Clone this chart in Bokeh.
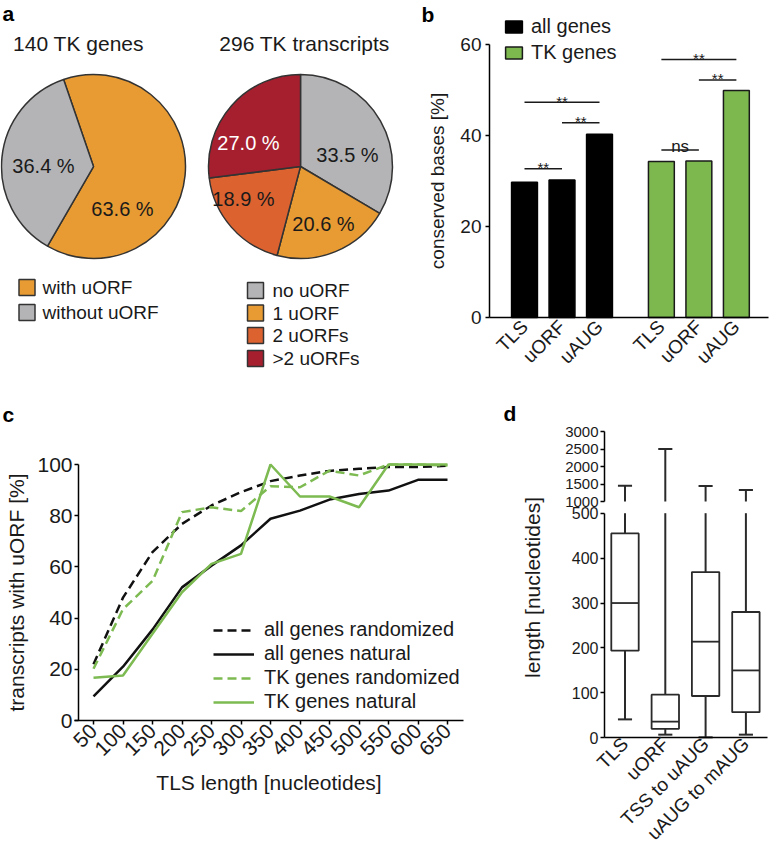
import numpy as np
from bokeh.plotting import figure
from bokeh.models import (Range1d, ColumnDataSource, Label, Legend, LegendItem,
                          LinearAxis, FixedTicker)
from bokeh.layouts import row, column
from bokeh.embed import file_html
from bokeh.resources import INLINE
from bokeh.core.properties import value

FONT = "Liberation Sans"
TXT = "#1a1a1a"

# ---------------------------------------------------------------- data
# panel a
genes_title = "140 TK genes"
genes_labels = ["with uORF", "without uORF"]
genes_pct = [63.6, 36.4]
tx_title = "296 TK transcripts"
tx_labels = ["no uORF", "1 uORF", "2 uORFs", ">2 uORFs"]
tx_pct = [33.5, 20.6, 18.9, 27.0]

# panel b
b_categories = ["TLS", "uORF", "uAUG"]
b_series = ["all genes", "TK genes"]
b_all_genes = [29.7, 30.2, 40.3]
b_tk_genes = [34.3, 34.4, 49.9]
b_sig_left = [0, 1, 0, 3, 4, 3]
b_sig_right = [2, 2, 1, 5, 5, 4]
b_sig_y = [47.3, 42.8, 32.7, 56.7, 52.2, 36.8]
b_sig_text = ["**", "**", "**", "**", "**", "ns"]
b_yticks = [0, 20, 40, 60]

# panel c
c_tls_length = [50, 100, 150, 200, 250, 300, 350, 400, 450, 500, 550, 600, 650]
c_all_random = [22.0, 48.0, 65.8, 76.8, 84.0, 89.2, 93.5, 95.7, 97.5, 98.3, 99.0, 99.0, 99.5]
c_all_natural = [9.4, 21.0, 35.5, 52.0, 60.5, 68.4, 78.8, 82.0, 86.3, 88.5, 89.8, 94.0, 94.0]
c_tk_random = [20.2, 43.5, 54.5, 81.4, 83.3, 81.8, 91.5, 91.1, 97.6, 95.7, 100.0, 100.0, 99.6]
c_tk_natural = [16.7, 17.6, 33.9, 50.1, 61.2, 65.1, 100.0, 87.5, 87.5, 83.3, 100.0, 100.0, 100.0]
c_series = ["all genes randomized", "all genes natural", "TK genes randomized", "TK genes natural"]
c_yticks = [0, 20, 40, 60, 80, 100]

# panel d
d_categories = ["TLS", "uORF", "TSS to uAUG", "uAUG to mAUG"]
d_low = [41, 7, 1, 7]
d_q1 = [194, 20, 93, 57]
d_median = [300, 36, 214, 150]
d_q3 = [455, 96, 369, 280]
d_high = [1450, 2500, 1440, 1330]
d_lower_ticks = [0, 100, 200, 300, 400, 500]
d_upper_ticks = [1000, 1500, 2000, 2500, 3000]

# ---------------------------------------------------------------- colours
C_ORANGE = "#E89B33"
C_GREY = "#B4B4B6"
C_DORANGE = "#DC6230"
C_RED = "#A51F2F"
C_GREEN = "#7CB84E"
C_LGREEN = "#7DBB52"
C_EDGE = "#333333"


# ---------------------------------------------------------------- geometry helpers
def lin(v0, p0, v1, p1):
    """value at page pixel p, from two anchors (value, page pixel)."""
    return lambda p: v0 + (p - p0) * (v1 - v0) / (p1 - p0)


def full_fig(w, h, xr, yr):
    p = figure(width=w, height=h, x_range=Range1d(*xr), y_range=Range1d(*yr),
               x_axis_location=None, y_axis_location=None,
               output_backend="svg", toolbar_location=None, min_border=0)
    p.outline_line_color = None
    p.background_fill_color = "white"
    p.border_fill_color = "white"
    p.xgrid.visible = False
    p.ygrid.visible = False
    return p


def style_axis(ax, tick_size, label_size):
    ax.axis_line_color = "black"
    ax.axis_line_width = 1.5
    ax.major_tick_line_color = "black"
    ax.major_tick_line_width = 1.5
    ax.minor_tick_line_color = None
    ax.major_tick_in = 0
    ax.major_label_text_font = FONT
    ax.major_label_text_font_size = tick_size
    ax.major_label_text_color = TXT
    ax.axis_label_text_font = FONT
    ax.axis_label_text_font_size = label_size
    ax.axis_label_text_font_style = "normal"
    ax.axis_label_text_color = TXT


def panel_letter(p, x, y, letter):
    p.add_layout(Label(x=x, y=y, text=letter, text_font=FONT, text_font_size="21px",
                       text_font_style="bold", text_color="black",
                       text_baseline="top", text_align="left"))


# ================================================================ panel a
AL, AT, AW, AH = 0, 0, 400, 400
pa = full_fig(AW, AH, (0, AW), (0, AH))


def ax_(xr):
    return xr - AL


def ay_(yr):
    return AH - (yr - AT)


panel_letter(pa, ax_(2), ay_(1), "a")

R_PIE = 92
g_frac = np.array(genes_pct) / 100.0
g_start = np.radians(240) + 2 * np.pi * np.concatenate([[0], np.cumsum(g_frac)[:-1]])
g_end = g_start + 2 * np.pi * g_frac
src_g = ColumnDataSource(dict(start=g_start, end=g_end, color=[C_ORANGE, C_GREY],
                              label=genes_labels))
pa.wedge(x=ax_(93), y=ay_(166), radius=R_PIE, radius_units="screen",
         start_angle="start", end_angle="end", fill_color="color",
         line_color=C_EDGE, line_width=1.5, source=src_g)

t_frac = np.array(tx_pct) / 100.0
t_cum = np.cumsum(t_frac)
t_end = np.radians(90) - 2 * np.pi * np.concatenate([[0], t_cum[:-1]])
t_start = np.radians(90) - 2 * np.pi * t_cum
src_t = ColumnDataSource(dict(start=t_start, end=t_end,
                              color=[C_GREY, C_ORANGE, C_DORANGE, C_RED], label=tx_labels))
pa.wedge(x=ax_(300), y=ay_(166), radius=R_PIE, radius_units="screen",
         start_angle="start", end_angle="end", fill_color="color",
         line_color=C_EDGE, line_width=1.5, source=src_t)

pa.text(x=[ax_(78), ax_(304)], y=[ay_(43), ay_(43)], text=[genes_title, tx_title],
        text_font=value(FONT), text_font_size="21px", text_color=TXT,
        text_align="center", text_baseline="middle")

g_lab_pos = [(122, 208), (43, 165)]
t_lab_pos = [(347, 154), (323, 223), (243, 198), (248, 142)]
pa.text(x=[ax_(p[0]) for p in g_lab_pos], y=[ay_(p[1]) for p in g_lab_pos],
        text=[f"{v:.1f} %" for v in genes_pct], text_font=value(FONT),
        text_font_size="20px", text_color=TXT, text_align="center", text_baseline="middle")
pa.text(x=[ax_(p[0]) for p in t_lab_pos], y=[ay_(p[1]) for p in t_lab_pos],
        text=[f"{v:.1f} %" for v in tx_pct], text_font=value(FONT),
        text_font_size="20px", text_color=[TXT, TXT, TXT, "white"],
        text_align="center", text_baseline="middle")

g_leg_rows = [287, 312]
t_leg_rows = [290, 312.5, 335, 358]
pa.scatter(x=[ax_(26.5)] * 2, y=[ay_(r) for r in g_leg_rows], marker="square", size=16,
           fill_color=[C_ORANGE, C_GREY], line_color=C_EDGE, line_width=1.5)
pa.text(x=[ax_(42)] * 2, y=[ay_(r) for r in g_leg_rows], text=genes_labels,
        text_font=value(FONT), text_font_size="19px", text_color=TXT,
        text_align="left", text_baseline="middle")
pa.scatter(x=[ax_(255)] * 4, y=[ay_(r) for r in t_leg_rows], marker="square", size=16,
           fill_color=[C_GREY, C_ORANGE, C_DORANGE, C_RED], line_color=C_EDGE, line_width=1.5)
pa.text(x=[ax_(272)] * 4, y=[ay_(r) for r in t_leg_rows], text=tx_labels,
        text_font=value(FONT), text_font_size="19px", text_color=TXT,
        text_align="left", text_baseline="middle")

# ================================================================ panel b
BL, BT, BW, BH = 400, 0, 369, 400
b_pos = [0, 1, 2, 3.65, 4.65, 5.65]
bx = lin(0, 524, 1, 561.5)
by = lin(0, 317, 60, 44)
pb = full_fig(BW, BH, (bx(BL), bx(BL + BW)), (by(BT + BH), by(BT)))

r_all = pb.vbar(x=b_pos[:3], top=b_all_genes, width=0.69, fill_color="black",
                line_color="black", line_width=1.5)
r_tk = pb.vbar(x=b_pos[3:], top=b_tk_genes, width=0.69, fill_color=C_GREEN,
               line_color="#1a1a1a", line_width=1.5)

sig_x0 = [b_pos[i] for i in b_sig_left]
sig_x1 = [b_pos[i] for i in b_sig_right]
pb.segment(x0=sig_x0, x1=sig_x1, y0=b_sig_y, y1=b_sig_y, line_color="#1a1a1a", line_width=1.5)
pb.text(x=[(a + b) / 2 for a, b in zip(sig_x0, sig_x1)], y=b_sig_y, text=b_sig_text,
        text_font=value(FONT), text_font_size=["15px"] * 5 + ["17px"], text_color=TXT,
        text_align="center", text_baseline="alphabetic", y_offset=[-1] * 5 + [-4])

b_axis_x = bx(489)
yax_b = LinearAxis(fixed_location=b_axis_x, ticker=FixedTicker(ticks=b_yticks),
                   bounds=(0, 60), axis_label="conserved bases [%]")
style_axis(yax_b, "19px", "19px")
yax_b.major_tick_out = 4
yax_b.major_label_standoff = 4
yax_b.axis_label_standoff = 9
pb.add_layout(yax_b, "left")
xax_b = LinearAxis(fixed_location=0, ticker=FixedTicker(ticks=b_pos),
                   bounds=(b_axis_x, bx(768)),
                   major_label_overrides={p_: c for p_, c in zip(b_pos, b_categories * 2)})
style_axis(xax_b, "19px", "19px")
xax_b.major_tick_out = 0
xax_b.major_label_standoff = 6
xax_b.major_label_orientation = np.pi / 4
pb.add_layout(xax_b, "below")

leg_b = Legend(items=[LegendItem(label=b_series[0], renderers=[r_all]),
                      LegendItem(label=b_series[1], renderers=[r_tk])],
               location=(503 - BL, (BT + BH) - (28 - 11.2 + 47.6)),
               glyph_width=21, glyph_height=15, label_height=22, spacing=3,
               padding=0, margin=0, label_standoff=7,
               label_text_font=FONT, label_text_font_size="20px", label_text_color=TXT,
               border_line_color=None, background_fill_alpha=0)
pb.add_layout(leg_b)
panel_letter(pb, bx(421), by(2), "b")

# ================================================================ panel c
CL, CT, CW, CH = 0, 400, 500, 455
cx = lin(50, 93, 650, 447)
cy = lin(0, 720, 100, 464)
pc = full_fig(CW, CH, (cx(CL), cx(CL + CW)), (cy(CT + CH), cy(CT)))

l1 = pc.line(c_tls_length, c_all_random, line_color="#111111", line_width=2.5, line_dash="9 5")
l2 = pc.line(c_tls_length, c_all_natural, line_color="#111111", line_width=2.5)
l3 = pc.line(c_tls_length, c_tk_random, line_color=C_LGREEN, line_width=2.5, line_dash="9 5")
l4 = pc.line(c_tls_length, c_tk_natural, line_color=C_LGREEN, line_width=2.5)

c_axis_x = cx(78)
yax_c = LinearAxis(fixed_location=c_axis_x, ticker=FixedTicker(ticks=c_yticks),
                   bounds=(0, 100), axis_label="transcripts with uORF [%]")
style_axis(yax_c, "21px", "21px")
yax_c.major_tick_out = 4
yax_c.major_label_standoff = 2
yax_c.axis_label_standoff = 6
pc.add_layout(yax_c, "left")
xax_c = LinearAxis(fixed_location=0, ticker=FixedTicker(ticks=c_tls_length),
                   bounds=(cx(74), cx(463)), axis_label="TLS length [nucleotides]")
style_axis(xax_c, "21px", "21px")
xax_c.major_tick_out = 4
xax_c.major_label_standoff = 3
xax_c.major_label_orientation = np.pi / 4
xax_c.axis_label_standoff = 6
pc.add_layout(xax_c, "below")

leg_c = Legend(items=[LegendItem(label=s, renderers=[r]) for s, r in zip(c_series, [l1, l2, l3, l4])],
               location=(213 - CL, (CT + CH) - (632 - 11.2 + 92.2)),
               glyph_width=41, glyph_height=20, label_height=22, spacing=1,
               padding=0, margin=0, label_standoff=10,
               label_text_font=FONT, label_text_font_size="20px", label_text_color=TXT,
               border_line_color=None, background_fill_alpha=0)
pc.add_layout(leg_c)
panel_letter(pc, cx(2), cy(402), "c")

# ================================================================ panel d
DL, DT, DW, DH = 500, 400, 269, 455
BREAK_LOW, BREAK_HIGH = 500, 1000
dx = lin(0, 624.5, 1, 664.8)
dy = lin(0, 737.3, 500, 512.7)
dy_up = lin(1000, 501, 3000, 431)
pdd = full_fig(DW, DH, (dx(DL), dx(DL + DW)), (dy(DT + DH), dy(DT)))
pdd.extra_y_ranges = {"upper": Range1d(dy_up(DT + DH), dy_up(DT))}

d_pos = [0, 1, 2, 3]
BOXC = "#2a2a2a"
box_w, cap_w = 0.68, 0.35
pdd.segment(x0=d_pos, x1=d_pos, y0=d_q3, y1=np.minimum(d_high, BREAK_LOW),
            line_color=BOXC, line_width=2)
pdd.segment(x0=d_pos, x1=d_pos, y0=d_low, y1=d_q1, line_color=BOXC, line_width=2)
pdd.segment(x0=[x - cap_w / 2 for x in d_pos], x1=[x + cap_w / 2 for x in d_pos],
            y0=d_low, y1=d_low, line_color=BOXC, line_width=2)
pdd.segment(x0=d_pos, x1=d_pos, y0=[BREAK_HIGH] * 4, y1=d_high, line_color=BOXC,
            line_width=2, y_range_name="upper")
pdd.segment(x0=[x - cap_w / 2 for x in d_pos], x1=[x + cap_w / 2 for x in d_pos],
            y0=d_high, y1=d_high, line_color=BOXC, line_width=2, y_range_name="upper")
pdd.vbar(x=d_pos, bottom=d_q1, top=d_q3, width=box_w, fill_color="white",
         line_color=BOXC, line_width=1.8)
pdd.segment(x0=[x - box_w / 2 for x in d_pos], x1=[x + box_w / 2 for x in d_pos],
            y0=d_median, y1=d_median, line_color=BOXC, line_width=1.8)

d_axis_x = dx(604)
yax_d = LinearAxis(fixed_location=d_axis_x, ticker=FixedTicker(ticks=d_lower_ticks),
                   bounds=(0, BREAK_LOW))
style_axis(yax_d, "16px", "16px")
yax_d.major_tick_out = 4
yax_d.major_label_standoff = 2
pdd.add_layout(yax_d, "left")
yax_d_up = LinearAxis(y_range_name="upper", fixed_location=d_axis_x,
                      ticker=FixedTicker(ticks=d_upper_ticks), bounds=(BREAK_HIGH, 3000))
style_axis(yax_d_up, "15px", "15px")
yax_d_up.major_tick_out = 4
yax_d_up.major_label_standoff = 2
pdd.add_layout(yax_d_up, "left")
# title of the broken y axis (spans both segments)
pdd.add_layout(Label(x=dx(532), y=dy(587), text="length [nucleotides]", angle=np.pi / 2,
                     text_font=FONT, text_font_size="21px", text_color=TXT,
                     text_align="center", text_baseline="middle"))

xax_d = LinearAxis(fixed_location=0, ticker=FixedTicker(ticks=d_pos),
                   bounds=(d_axis_x, dx(767)),
                   major_label_overrides={p_: c for p_, c in zip(d_pos, d_categories)})
style_axis(xax_d, "19px", "19px")
xax_d.major_tick_out = 0
xax_d.major_label_standoff = 3
xax_d.major_label_orientation = np.pi / 4
pdd.add_layout(xax_d, "below")
panel_letter(pdd, dx(503), dy(401), "d")

layout = column(row(pa, pb), row(pc, pdd))
open("out.html", "w").write(file_html(layout, INLINE))
